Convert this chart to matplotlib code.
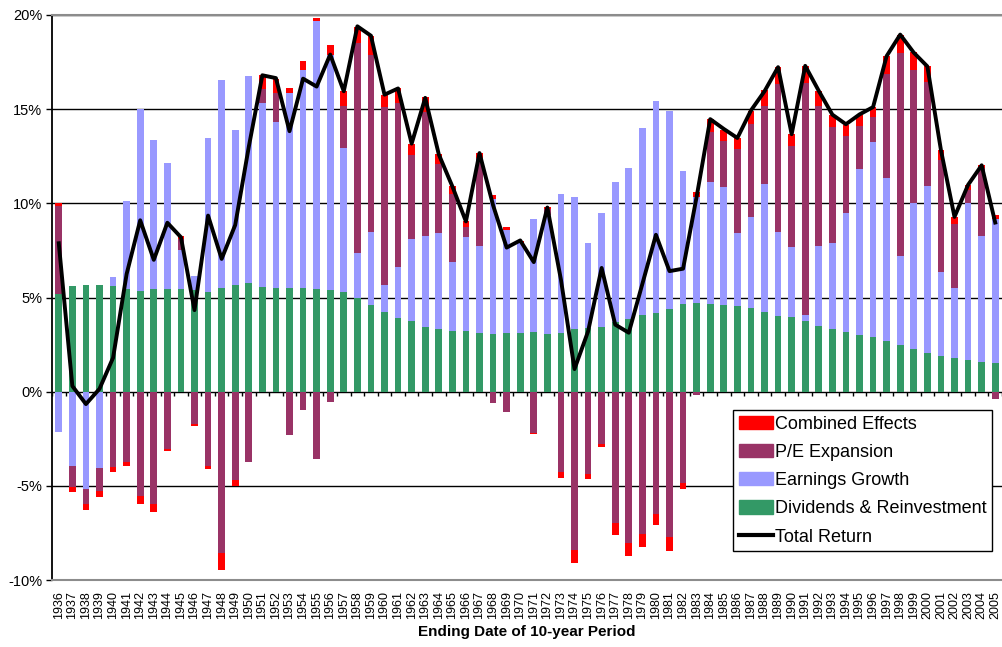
import numpy as np
import matplotlib
matplotlib.use("Agg")
import matplotlib.pyplot as plt
from matplotlib.patches import Patch
from matplotlib.lines import Line2D

plt.rcParams['font.family'] = ['Liberation Sans', 'DejaVu Sans']

years = list(range(1936, 2006))

# components of 10-year annualised return, in %
dividends = [5.19, 5.59, 5.65, 5.69, 5.59, 5.45, 5.33, 5.43, 5.43, 5.45,
             5.39, 5.29, 5.49, 5.67, 5.77, 5.55, 5.49, 5.53, 5.49, 5.47,
             5.39, 5.29, 4.97, 4.59, 4.23, 3.91, 3.73, 3.45, 3.31, 3.23,
             3.23, 3.09, 3.07, 3.13, 3.13, 3.15, 3.05, 3.09, 3.33, 3.39,
             3.45, 3.69, 3.85, 4.05, 4.19, 4.39, 4.65, 4.69, 4.65, 4.61,
             4.55, 4.43, 4.25, 4.03, 3.95, 3.73, 3.49, 3.33, 3.19, 3.03,
             2.89, 2.69, 2.49, 2.28, 2.06, 1.90, 1.78, 1.68, 1.56, 1.50]
earnings = [-2.14, -3.95, -5.15, -4.05, 0.50, 4.69, 9.70, 7.94, 6.69, 2.09,
            0.74, 8.16, 11.04, 8.24, 11.00, 9.78, 8.84, 10.34, 11.58, 14.19,
            12.51, 7.64, 2.38, 3.89, 1.42, 2.72, 4.35, 4.83, 5.09, 3.68,
            4.99, 4.67, 7.15, 5.45, 4.75, 6.03, 6.33, 7.43, 7.01, 4.49,
            6.03, 7.43, 8.01, 9.96, 11.24, 10.52, 7.07, 5.63, 6.47, 6.27,
            3.87, 4.87, 6.79, 4.45, 3.73, 0.36, 4.23, 4.55, 6.29, 8.81,
            10.38, 8.67, 4.74, 7.72, 8.88, 4.43, 3.75, 8.32, 6.68, 7.68]
pe_expansion = [4.69, -1.10, -0.80, -1.24, -3.99, -3.75, -5.55, -5.95, -3.05, 0.58,
                -1.70, -3.95, -8.58, -4.69, -3.73, 0.74, 1.54, -2.30, -0.96, -3.59,
                -0.54, 2.24, 11.15, 9.38, 9.46, 8.72, 4.49, 6.59, 3.68, 3.57,
                0.54, 4.66, -0.62, -1.06, 0.00, -2.20, 0.30, -4.29, -8.42, -4.39,
                -2.79, -6.99, -8.04, -7.54, -6.49, -7.74, -4.85, -0.20, 2.69, 2.45,
                4.45, 4.91, 4.13, 7.83, 5.35, 12.28, 7.45, 6.15, 4.07, 2.29,
                1.34, 5.51, 10.77, 7.07, 5.49, 5.95, 3.39, 0.72, 3.64, -0.40]
combined = [0.12, -0.28, -0.34, -0.30, -0.30, -0.20, -0.40, -0.44, -0.10, 0.14,
            -0.12, -0.18, -0.90, -0.34, 0.00, 0.74, 0.74, 0.26, 0.50, 0.16,
            0.52, 0.80, 0.86, 1.04, 0.66, 0.76, 0.60, 0.76, 0.55, 0.44,
            0.28, 0.25, 0.20, 0.14, 0.14, -0.06, 0.10, -0.30, -0.70, -0.26,
            -0.14, -0.60, -0.68, -0.70, -0.60, -0.74, -0.34, 0.28, 0.66, 0.58,
            0.60, 0.70, 0.84, 0.92, 0.64, 0.94, 0.80, 0.68, 0.62, 0.54,
            0.50, 0.95, 0.96, 0.95, 0.84, 0.55, 0.36, 0.26, 0.14, 0.20]
total_return = [7.88, 0.30, -0.66, 0.15, 1.80, 6.25, 9.10, 7.00, 8.97, 8.20,
                4.33, 9.35, 7.05, 8.85, 13.00, 16.80, 16.65, 13.83, 16.62, 16.20,
                17.90, 15.95, 19.40, 18.90, 15.77, 16.10, 13.17, 15.60, 12.60, 10.90,
                9.04, 12.67, 9.90, 7.65, 8.03, 6.88, 9.78, 5.95, 1.20, 3.20,
                6.57, 3.56, 3.13, 5.72, 8.33, 6.40, 6.53, 10.35, 14.47, 13.95,
                13.47, 14.93, 15.95, 17.23, 13.67, 17.30, 15.97, 14.71, 14.20, 14.72,
                15.11, 17.82, 18.96, 18.00, 17.27, 12.83, 9.28, 10.98, 12.02, 8.98]

series = [
    ('Dividends & Reinvestment', dividends, '#339966'),
    ('Earnings Growth', earnings, '#9999FF'),
    ('P/E Expansion', pe_expansion, '#993366'),
    ('Combined Effects', combined, '#FF0000'),
]

fig = plt.figure(figsize=(10.03, 6.47), dpi=100)
W, H = 1003, 647
ax = fig.add_axes([52 / W, (H - 580) / H, 950 / W, 565 / H])

x = np.arange(len(years))
pos_bottom = np.zeros(len(years))
neg_bottom = np.zeros(len(years))
for name, vals, color in series:
    v = np.array(vals)
    bottom = np.where(v >= 0, pos_bottom, neg_bottom)
    ax.bar(x, v, 0.5, bottom=bottom, color=color, linewidth=0, zorder=2)
    pos_bottom += np.where(v >= 0, v, 0)
    neg_bottom += np.where(v < 0, v, 0)

ax.plot(x, total_return, color='black', lw=2.8, zorder=3)

ax.set_xlim(-0.5, len(years) - 0.5)
ax.set_ylim(-10, 20)
ax.set_yticks(np.arange(-10, 21, 5))
ax.set_yticklabels([f'{v}%' for v in range(-10, 21, 5)], fontsize=10.5)
ax.tick_params(axis='y', direction='out', length=4, width=1, pad=3)

ax.set_xticks(x)
ax.set_xticklabels([str(y) for y in years], rotation=90, fontsize=9)
ax.tick_params(axis='x', length=0, pad=8)
ax.set_xlabel('Ending Date of 10-year Period', fontsize=11, fontweight='bold', labelpad=4)

ax.yaxis.grid(True, color='black', lw=1)
ax.set_axisbelow(True)
for s in ['top', 'bottom']:
    ax.spines[s].set_color('#8c8c8c')
    ax.spines[s].set_linewidth(1.5)
ax.spines['right'].set_visible(False)
ax.spines['left'].set_color('black')
ax.spines['left'].set_linewidth(1.3)

# category tick marks on the zero line
sec = ax.secondary_xaxis(1 / 3)
sec.set_xticks(np.arange(-0.5, len(years), 1))
sec.set_xticklabels([])
sec.tick_params(axis='x', direction='out', length=3, width=1, color='black')
sec.spines['bottom'].set_visible(False)
sec.spines['top'].set_visible(False)

handles = [Patch(color='#FF0000', label='Combined Effects'),
           Patch(color='#993366', label='P/E Expansion'),
           Patch(color='#9999FF', label='Earnings Growth'),
           Patch(color='#339966', label='Dividends & Reinvestment'),
           Line2D([], [], color='black', lw=3, label='Total Return')]
leg = fig.legend(handles=handles, loc='upper left',
                 bbox_to_anchor=(733 / W, 1 - 410 / H), fontsize=13,
                 frameon=True, fancybox=False, edgecolor='black',
                 framealpha=1, handlelength=1.9, handleheight=0.75,
                 handletextpad=0.1, labelspacing=0.62, borderpad=0.32,
                 borderaxespad=0)
leg.get_frame().set_linewidth(1)

fig.savefig('out.png', dpi=100)
